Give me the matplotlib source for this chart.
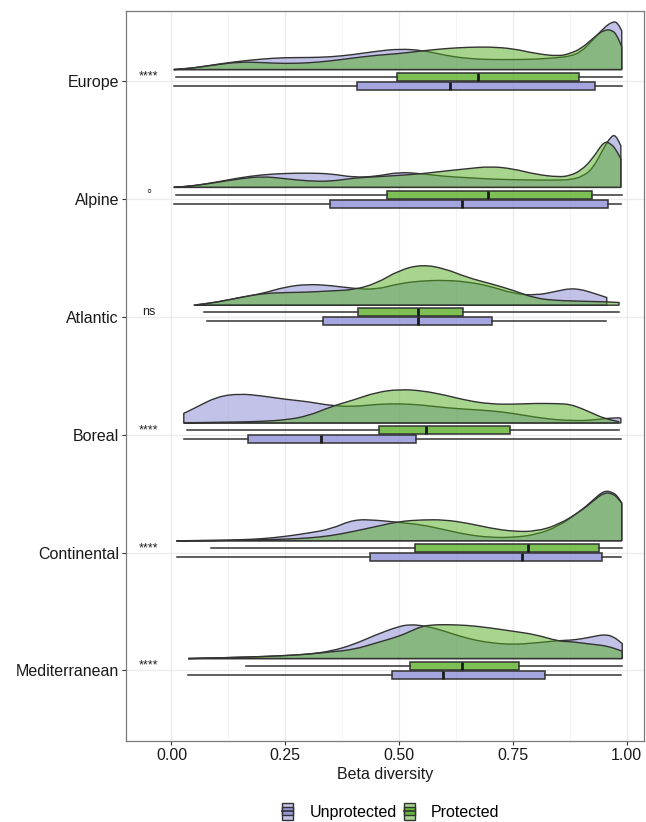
import matplotlib
matplotlib.use("Agg")
import matplotlib.pyplot as plt
from matplotlib.path import Path
from matplotlib.patches import PathPatch, Patch, Rectangle
from matplotlib.lines import Line2D
from matplotlib.legend_handler import HandlerBase
from matplotlib.colors import to_rgba

plt.rcParams['font.family'] = ['Liberation Sans', 'DejaVu Sans']

# ------------------------------------------------------------------
# data
# ------------------------------------------------------------------
regions = ['Europe', 'Alpine', 'Atlantic', 'Boreal', 'Continental', 'Mediterranean']
groups = ['Unprotected', 'Protected']
signif = ['****', '°', 'ns', '****', '****', '****']

# boxplot statistics, one value per region
unprot_lo = [0.006, 0.006, 0.079, 0.027, 0.012, 0.037]
unprot_q1 = [0.407, 0.349, 0.333, 0.167, 0.436, 0.484]
unprot_med = [0.612, 0.639, 0.541, 0.328, 0.769, 0.597]
unprot_q3 = [0.931, 0.958, 0.703, 0.537, 0.945, 0.821]
unprot_hi = [0.989, 0.987, 0.955, 0.987, 0.988, 0.988]

prot_lo = [0.0095, 0.009, 0.072, 0.034, 0.086, 0.163]
prot_q1 = [0.496, 0.4725, 0.410, 0.455, 0.534, 0.524]
prot_med = [0.673, 0.696, 0.541, 0.558, 0.784, 0.637]
prot_q3 = [0.896, 0.923, 0.640, 0.744, 0.939, 0.764]
prot_hi = [0.990, 0.989, 0.983, 0.982, 0.989, 0.990]

# density curves (beta diversity -> density), None = outside the data range
europe_x = [0.005, 0.05, 0.10, 0.15, 0.20, 0.25, 0.30, 0.35, 0.40, 0.45, 0.50, 0.55, 0.60,
            0.65, 0.70, 0.75, 0.80, 0.85, 0.875, 0.90, 0.925, 0.95, 0.97, 0.98, 0.989]
europe_unprot = [0, .05, .16, .25, .32, .36, .36, .38, .45, .55, .62, .58, .43,
                 .33, .30, .30, .31, .36, .40, .53, .88, 1.26, 1.45, 1.40, 1.16]
europe_prot = [0, .05, .15, .23, .21, .18, .20, .26, .35, .43, .48, .56, .63,
               .67, .68, .63, .48, .40, .48, .63, .93, 1.20, 1.18, .98, .68]

alpine_x = [0.005, 0.05, 0.10, 0.15, 0.20, 0.25, 0.30, 0.35, 0.40, 0.45, 0.50, 0.55, 0.60,
            0.65, 0.70, 0.75, 0.80, 0.85, 0.875, 0.90, 0.925, 0.95, 0.965, 0.975, 0.987]
alpine_unprot = [0, .05, .16, .29, .38, .42, .43, .41, .30, .33, .46, .41, .33,
                 .29, .25, .23, .22, .22, .23, .31, .55, 1.20, 1.52, 1.58, 1.25]
alpine_prot = [0, .05, .15, .26, .33, .26, .19, .18, .28, .32, .36, .41, .49,
               .56, .63, .56, .39, .31, .35, .51, .86, 1.39, 1.31, 1.16, .86]

atlantic_x = [0.049, 0.10, 0.15, 0.20, 0.25, 0.30, 0.35, 0.40, 0.45, 0.50, 0.55, 0.60,
              0.65, 0.70, 0.75, 0.80, 0.85, 0.875, 0.90, 0.925, 0.956, 0.983]
atlantic_unprot = [0, .09, .23, .35, .55, .63, .59, .50, .47, .65, .73, .75,
                   .70, .57, .35, .29, .43, .50, .47, .37, .23, None]
atlantic_prot = [0, .09, .23, .35, .38, .39, .43, .46, .65, 1.05, 1.22, 1.10,
                 .83, .65, .45, .20, .14, .13, .12, .11, .10, .08]

boreal_x = [0.027, 0.05, 0.10, 0.15, 0.20, 0.25, 0.30, 0.35, 0.40, 0.45, 0.50, 0.55,
            0.60, 0.65, 0.70, 0.75, 0.80, 0.85, 0.875, 0.90, 0.925, 0.95, 0.982, 0.987]
boreal_unprot = [.29, .44, .79, .88, .81, .71, .64, .52, .49, .56, .58, .54,
                 .46, .41, .37, .29, .17, .09, .08, .07, .09, .13, .16, .14]
boreal_prot = [.01, .01, .02, .03, .05, .09, .21, .49, .69, .92, 1.01, .97,
               .84, .67, .57, .56, .59, .58, .56, .44, .29, .14, .04, None]

continental_x = [0.011, 0.10, 0.15, 0.20, 0.25, 0.30, 0.35, 0.40, 0.45, 0.50, 0.55, 0.60,
                 0.65, 0.70, 0.75, 0.80, 0.85, 0.90, 0.925, 0.95, 0.97, 0.98, 0.989]
continental_unprot = [0, .01, .03, .06, .13, .23, .35, .64, .62, .55, .48, .33,
                      .18, .10, .10, .18, .43, .91, 1.21, 1.51, 1.45, 1.33, 1.13]
continental_prot = [0, .01, .02, .03, .05, .08, .15, .28, .43, .58, .63, .63,
                    .53, .38, .28, .28, .48, .90, 1.18, 1.45, 1.41, 1.28, 1.13]

mediterranean_x = [0.037, 0.10, 0.15, 0.20, 0.25, 0.30, 0.35, 0.40, 0.45, 0.50, 0.525, 0.55,
                   0.575, 0.60, 0.65, 0.70, 0.75, 0.80, 0.85, 0.875, 0.90, 0.93, 0.95, 0.97, 0.99]
mediterranean_unprot = [0, .02, .04, .06, .09, .13, .22, .42, .72, .97, 1.02, .99,
                        .92, .82, .60, .47, .42, .47, .54, .55, .59, .67, .72, .67, .45]
mediterranean_prot = [0, .02, .04, .06, .09, .13, .20, .27, .47, .67, .82, .97,
                      1.01, 1.02, 1.00, .92, .82, .72, .52, .51, .47, .42, .39, .32, .22]

dens_x = [europe_x, alpine_x, atlantic_x, boreal_x, continental_x, mediterranean_x]
dens_unprot = [europe_unprot, alpine_unprot, atlantic_unprot, boreal_unprot,
               continental_unprot, mediterranean_unprot]
dens_prot = [europe_prot, alpine_prot, atlantic_prot, boreal_prot,
             continental_prot, mediterranean_prot]

# ------------------------------------------------------------------
# style
# ------------------------------------------------------------------
UNPROT_COL = '#8787d5'
PROT_COL = '#51ad1d'
EDGE = '#333333'
DENS_SCALE = 0.283     # density units -> category units
DENS_BASE = -0.10      # baseline of the half violin above the category
BOX_OFF = 0.038
BOX_W = 0.068


def density_patch(xs, hs, base, color):
    pts = [(x, base - h * DENS_SCALE) for x, h in zip(xs, hs) if h is not None]
    verts = [(pts[0][0], base), pts[0]]
    codes = [Path.MOVETO, Path.LINETO]
    mid = lambda a, b: ((a[0] + b[0]) / 2, (a[1] + b[1]) / 2)
    verts.append(mid(pts[0], pts[1]))
    codes.append(Path.LINETO)
    for i in range(1, len(pts) - 1):
        verts += [pts[i], mid(pts[i], pts[i + 1])]
        codes += [Path.CURVE3, Path.CURVE3]
    verts += [pts[-1], (pts[-1][0], base), (pts[0][0], base)]
    codes += [Path.LINETO, Path.LINETO, Path.CLOSEPOLY]
    return PathPatch(Path(verts, codes), facecolor=to_rgba(color, 0.5),
                     edgecolor=EDGE, lw=1.0, zorder=2)


class BoxKey(HandlerBase):
    def __init__(self, color):
        super().__init__()
        self.color = color

    def create_artists(self, legend, orig_handle, xdescent, ydescent,
                       width, height, fontsize, trans):
        x0, y0 = -xdescent, -ydescent
        outer = Rectangle((x0, y0), width, height, facecolor=to_rgba(self.color, 0.5),
                          edgecolor=EDGE, lw=1.0, transform=trans)
        inner = Rectangle((x0, y0 + height * 0.27), width, height * 0.46,
                          facecolor=to_rgba(self.color, 0.75), edgecolor=EDGE,
                          lw=1.0, transform=trans)
        mid = Line2D([x0, x0 + width], [y0 + height / 2] * 2, color=EDGE,
                     lw=1.2, transform=trans)
        return [outer, inner, mid]


fig = plt.figure(figsize=(6.46, 8.22), dpi=100)
ax = fig.add_axes([0.195, 0.0985, 0.802, 0.8885])

for i in range(len(regions)):
    ax.add_patch(density_patch(dens_x[i], dens_unprot[i], i + DENS_BASE, UNPROT_COL))
    ax.add_patch(density_patch(dens_x[i], dens_prot[i], i + DENS_BASE, PROT_COL))

    for lo, q1, med, q3, hi, pos, col in [
            (unprot_lo, unprot_q1, unprot_med, unprot_q3, unprot_hi, i + BOX_OFF, UNPROT_COL),
            (prot_lo, prot_q1, prot_med, prot_q3, prot_hi, i - BOX_OFF, PROT_COL)]:
        stats = [dict(whislo=lo[i], q1=q1[i], med=med[i], q3=q3[i], whishi=hi[i], fliers=[])]
        ax.bxp(stats, positions=[pos], widths=BOX_W, orientation='horizontal',
               patch_artist=True, showcaps=False, showfliers=False, manage_ticks=False,
               boxprops=dict(facecolor=to_rgba(col, 0.75), edgecolor=EDGE, lw=1.1),
               medianprops=dict(color='#1a1a1a', lw=2.0),
               whiskerprops=dict(color=EDGE, lw=1.1), zorder=3)

    ax.text(-0.05, i - BOX_OFF, signif[i], ha='center', va='center',
            fontsize=9, color='#222222')

ax.set_xlim(-0.10, 1.038)
ax.set_ylim(5.6, -0.6)
ax.set_xticks([0, 0.25, 0.5, 0.75, 1.0])
ax.set_xticklabels(['0.00', '0.25', '0.50', '0.75', '1.00'])
ax.set_xticks([0.125, 0.375, 0.625, 0.875], minor=True)
ax.set_yticks(range(len(regions)))
ax.set_yticklabels(regions)
ax.tick_params(axis='both', which='major', labelsize=11.5, labelcolor='#1a1a1a',
               color='#333333', length=3, width=0.8, pad=2)
ax.tick_params(axis='x', which='minor', length=0)
ax.grid(True, which='major', color='#ebebeb', lw=1.0, zorder=0)
ax.grid(True, which='minor', axis='x', color='#f2f2f2', lw=0.6, zorder=0)
ax.set_axisbelow(True)
for s in ax.spines.values():
    s.set_color('#7a7a7a')
    s.set_linewidth(0.9)
ax.set_xlabel('Beta diversity', fontsize=11.5, color='#1a1a1a', labelpad=3)

h_unprot = Patch(facecolor=UNPROT_COL)
h_prot = Patch(facecolor=PROT_COL)
fig.legend([h_unprot, h_prot], groups, loc='center', bbox_to_anchor=(0.605, 0.013),
           ncol=2, frameon=False, fontsize=11.5, handlelength=0.7, handleheight=1.3,
           handletextpad=1.0, columnspacing=0.45,
           handler_map={h_unprot: BoxKey(UNPROT_COL), h_prot: BoxKey(PROT_COL)})

fig.savefig('out.png', dpi=100)
